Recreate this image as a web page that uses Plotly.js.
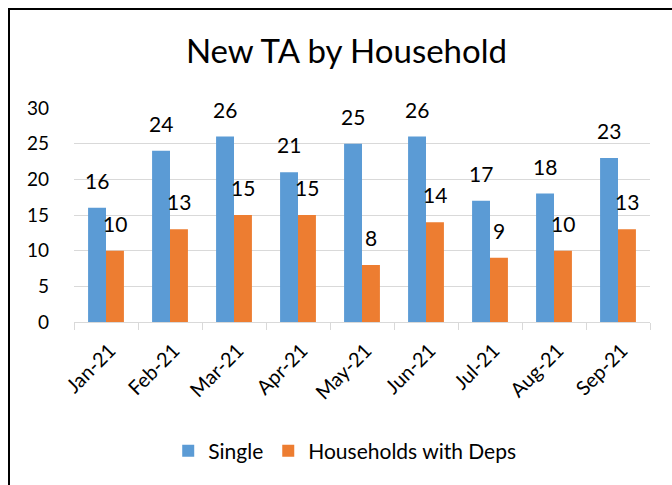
<!DOCTYPE html>
<html>
<head>
<meta charset="utf-8">
<script src="https://cdn.plot.ly/plotly-3.0.1.min.js"></script>
<style>
  html, body { margin: 0; padding: 0; background: #ffffff; }
  #wrap { position: relative; width: 672px; height: 485px; overflow: hidden; }
  #chart { width: 672px; height: 485px; }
  #frame { position: absolute; left: 8px; top: 8px; width: 700px; height: 500px;
           border-top: 2px solid #000; border-left: 2px solid #000; pointer-events: none; }
</style>
</head>
<body>
<div id="wrap">
  <div id="chart"></div>
  <div id="frame"></div>
</div>
<script>
const months = ["Jan-21", "Feb-21", "Mar-21", "Apr-21", "May-21", "Jun-21", "Jul-21", "Aug-21", "Sep-21"];
const single = [16, 24, 26, 21, 25, 26, 17, 18, 23];
const withDeps = [10, 13, 15, 15, 8, 14, 9, 10, 13];
const yTicks = [0, 5, 10, 15, 20, 25, 30];

const font = "Lato, 'Open Sans', sans-serif";

const traces = [
  {
    type: "bar", name: "Single", x: months, y: single,
    marker: { color: "#5B9BD5" }, hoverinfo: "none"
  },
  {
    type: "bar", name: "Households with Deps", x: months, y: withDeps,
    marker: { color: "#ED7D31" }, hoverinfo: "none"
  }
];

// value labels above each bar, placed by the data values
function labels(vals, shift) {
  return months.map((m, i) => ({
    x: m, y: vals[i], xref: "x", yref: "y", text: String(vals[i]),
    showarrow: false, xshift: shift, yshift: 13, yanchor: "bottom", xanchor: "center",
    font: { family: font, size: 21, color: "#000" }
  }));
}

const layout = {
  width: 672, height: 485,
  margin: { l: 74, r: 22, t: 108, b: 163 },
  paper_bgcolor: "rgba(0,0,0,0)", plot_bgcolor: "rgba(0,0,0,0)",
  font: { family: font, color: "#000" },
  title: { text: "New TA by Household", font: { family: font, size: 33, color: "#000" },
           x: 0.473, xanchor: "center", y: 0.893, yanchor: "middle", xref: "paper", yref: "container" },
  barmode: "group", bargap: 0.44, bargroupgap: 0,
  xaxis: {
    type: "category", tickangle: -45, tickson: "boundaries",
    ticks: "outside", ticklen: 7, tickcolor: "#d9d9d9",
    showline: true, linecolor: "#d9d9d9", linewidth: 1, ticklabelstandoff: 8, ticklabelshift: 4,
    tickfont: { family: font, size: 20, color: "#000" }, showgrid: false
  },
  yaxis: {
    range: [0, 30], tickvals: yTicks, ticktext: yTicks.map(String),
    showgrid: true, gridcolor: "#d9d9d9", gridwidth: 1, zeroline: false,
    showline: false, ticks: "", ticklabelstandoff: 24,
    tickfont: { family: font, size: 19, color: "#000" }
  },
  annotations: labels(single, -9).concat(labels(withDeps, 9)),
  showlegend: true,
  legend: { orientation: "h", x: 0.47, xanchor: "center", y: -0.603, yanchor: "middle",
            font: { family: font, size: 21, color: "#000" }, traceorder: "normal" }
};

Plotly.newPlot("chart", traces, layout, { staticPlot: true, displayModeBar: false });
</script>
</body>
</html>
